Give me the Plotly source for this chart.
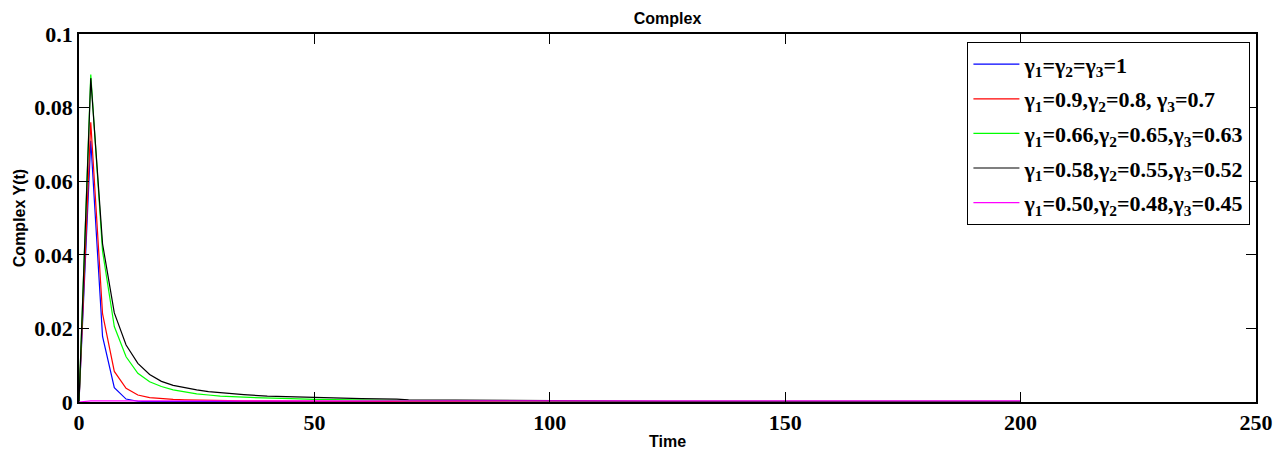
import plotly.graph_objects as go

# Time grid
time = [0, 2.5, 5, 7.5, 10, 12.5, 15, 17.5, 20, 22.5, 25, 27.5, 30, 35, 40, 45, 50,
        55, 60, 67.5, 70, 80, 90, 100, 105, 110, 125, 150, 175, 200]

# Series values
y_g100 = [0, 0.0710, 0.0178, 0.0039, 0.0008, 0.0002, 0.0001, 0.0001, 0.0000, 0.0000,
          0.0000, 0.0000, 0.0000, 0.0000, 0.0000, 0.0000, 0.0000,
          0.0000, 0.0000, 0.0000, 0.0000, 0.0000, 0.0000, 0.0000, 0.0000, 0.0000,
          0.0000, 0.0000, 0.0000, 0.0000]
y_g090 = [0, 0.0760, 0.0240, 0.0083, 0.0037, 0.0019, 0.0012, 0.0009, 0.0007, 0.0006,
          0.0005, 0.0004, 0.0004, 0.0003, 0.0003, 0.0002, 0.0002,
          0.0002, 0.0002, 0.0001, 0.0001, 0.0001, 0.0001, 0.0001, 0.0001, 0.0001,
          0.0001, 0.0001, 0.0001, 0.0001]
y_g066 = [0, 0.0890, 0.0410, 0.0205, 0.0123, 0.0078, 0.0055, 0.0042, 0.0033, 0.0027,
          0.0022, 0.0019, 0.0016, 0.0013, 0.0010, 0.0009, 0.0007,
          0.0006, 0.0005, 0.0005, 0.0004, 0.0004, 0.0003, 0.0003, 0.0003, 0.0002,
          0.0002, 0.0002, 0.0001, 0.0001]
y_g058 = [0, 0.0880, 0.0430, 0.0242, 0.0155, 0.0105, 0.0075, 0.0056, 0.0045, 0.0038,
          0.0033, 0.0028, 0.0025, 0.0020, 0.0016, 0.0014, 0.0012,
          0.0010, 0.0009, 0.0008, 0.0006, 0.0005, 0.0005, 0.0004, 0.0003, 0.0003,
          0.0002, 0.0002, 0.0002, 0.0002]
y_g050 = [0, 0.0003, 0.0003, 0.0003, 0.0003, 0.0003, 0.0003, 0.0003, 0.0003, 0.0003,
          0.0003, 0.0003, 0.0003, 0.0003, 0.0003, 0.0003, 0.0003,
          0.0003, 0.0003, 0.0003, 0.0003, 0.0003, 0.0003, 0.0003, 0.0003, 0.0003,
          0.0003, 0.0003, 0.0003, 0.0003]

labels = [
    "γ<sub>1</sub>=γ<sub>2</sub>=γ<sub>3</sub>=1",
    "γ<sub>1</sub>=0.9,γ<sub>2</sub>=0.8, γ<sub>3</sub>=0.7",
    "γ<sub>1</sub>=0.66,γ<sub>2</sub>=0.65,γ<sub>3</sub>=0.63",
    "γ<sub>1</sub>=0.58,γ<sub>2</sub>=0.55,γ<sub>3</sub>=0.52",
    "γ<sub>1</sub>=0.50,γ<sub>2</sub>=0.48,γ<sub>3</sub>=0.45",
]
colors = ["#0000ff", "#ff0000", "#00ff00", "#000000", "#ff00ff"]
series = [y_g100, y_g090, y_g066, y_g058, y_g050]

x_ticks = [0, 50, 100, 150, 200, 250]
y_ticks = [0, 0.02, 0.04, 0.06, 0.08, 0.1]
y_tick_text = ["0", "0.02", "0.04", "0.06", "0.08", "0.1"]

fig = go.Figure()
for i, (name, col, ys) in enumerate(zip(labels, colors, series)):
    fig.add_trace(go.Scatter(x=time, y=ys, mode="lines", name=name,
                             legendgroup=f"g{i}",
                             line=dict(color=col, width=1.2)))

tick_font = dict(family="Liberation Serif", size=22, color="black", weight="bold")
label_font = dict(family="Liberation Sans", size=16, color="black")
fig.update_layout(
    width=1278, height=442,
    paper_bgcolor="white", plot_bgcolor="white",
    margin=dict(l=71, r=30, t=26, b=48, autoexpand=False),
    title=dict(text="<b>Complex</b>", x=0.5, xref="paper", xanchor="center",
               yref="container", y=0.99, yanchor="top", pad=dict(t=0, b=0),
               font=dict(family="Liberation Sans", size=16, color="black")),
    showlegend=True,
    legend=dict(x=0.995, xanchor="right", y=0.978, yanchor="top",
                bordercolor="black", borderwidth=1.3, bgcolor="white",
                font=dict(family="Liberation Serif", size=22, color="black", weight="bold"),
                tracegroupgap=3, itemwidth=46),
    xaxis=dict(range=[0, 250], tickmode="array", tickvals=x_ticks,
               ticks="inside", ticklen=10, tickcolor="black", tickwidth=1,
               showline=True, linecolor="black", linewidth=1.5, mirror="ticks",
               showgrid=False, zeroline=False, tickfont=tick_font, automargin=False,
               title=dict(text="<b>Time</b>", standoff=2, font=label_font)),
    yaxis=dict(range=[0, 0.1], tickmode="array", tickvals=y_ticks, ticktext=y_tick_text,
               ticks="inside", ticklen=10, tickcolor="black", tickwidth=1,
               showline=True, linecolor="black", linewidth=1.5, mirror="ticks",
               showgrid=False, zeroline=False, tickfont=tick_font, automargin=False,
               title=dict(text="<b>Complex Y(t)</b>", standoff=5, font=label_font)),
)
fig.write_html("out.html")
